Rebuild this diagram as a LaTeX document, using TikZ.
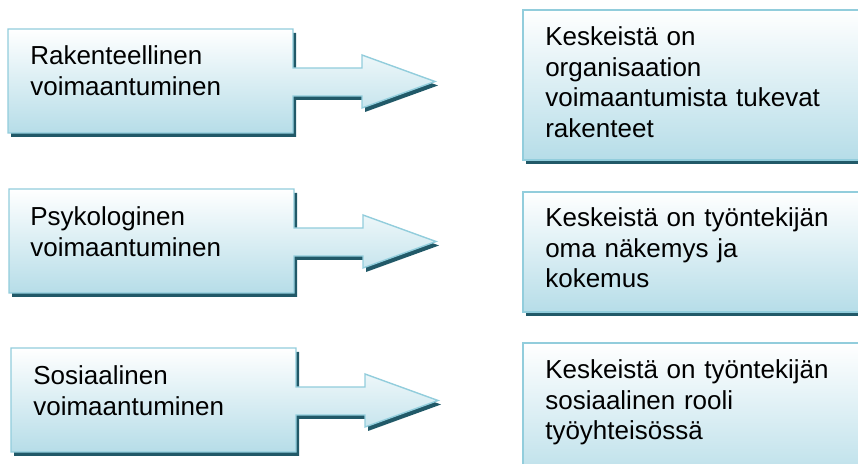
\documentclass[tikz,border=0pt]{standalone}
\usepackage{fontspec}
\setmainfont{Liberation Sans}
\usetikzlibrary{shadows}

\definecolor{boxline}{HTML}{92CDDC}
\definecolor{boxfill}{HTML}{B6DDE8}
\definecolor{boxshadow}{HTML}{215968}

\tikzset{
    calloutbox/.style={draw=boxline, line width=1pt, top color=white, bottom color=boxfill,
        general shadow={fill=boxshadow, shadow xshift=0.075cm, shadow yshift=-0.1cm}},
    infobox/.style={calloutbox},
    boxtext/.style={anchor=base west, inner sep=0pt, text width=8cm, align=left,
        font=\fontsize{18.5}{21.6}\selectfont}
}

\begin{document}
\begin{tikzpicture}[x=0.025cm, y=-0.025cm]
            \clip (0,0) rectangle (858,464);

            % rakenteellinen
            \begin{scope}[shift={(8,29)}]
                \path[calloutbox] (0,0) -- (285,0) -- (285,39) -- (354,39) -- (354,26)
                    -- (427,52.5) -- (354,79) -- (354,67) -- (285,67) -- (285,104) -- (0,104) -- cycle;
                \node[boxtext] (rakenne) at (22,36) {Rakenteellinen\\voimaantuminen};
            \end{scope}

            % psykologinen
            \begin{scope}[shift={(9,189)}]
                \path[calloutbox] (0,0) -- (285,0) -- (285,39) -- (354,39) -- (354,26)
                    -- (427,52.5) -- (354,79) -- (354,67) -- (285,67) -- (285,104) -- (0,104) -- cycle;
                \node[boxtext] (psyko) at (21,37) {Psykologinen\\voimaantuminen};
            \end{scope}

            % sosiaalinen
            \begin{scope}[shift={(11,348)}]
                \path[calloutbox] (0,0) -- (285,0) -- (285,39) -- (354,39) -- (354,26)
                    -- (427,52.5) -- (354,79) -- (354,67) -- (285,67) -- (285,104) -- (0,104) -- cycle;
                \node[boxtext] (sosio) at (22,37) {Sosiaalinen\\voimaantuminen};
            \end{scope}

            \path[infobox] (523,10) rectangle (880,160);
            \node[boxtext] (rakenneinfo) at (545,46)
                {Keskeistä on\\organisaation\\voimaantumista tukevat\\rakenteet};

            \path[infobox] (523,192) rectangle (880,312);
            \node[boxtext] (psykoinfo) at (545,227)
                {Keskeistä on työntekijän\\oma näkemys ja\\kokemus};

            \path[infobox] (523,343) rectangle (880,490);
            \node[boxtext] (sosioinfo) at (545,379)
                {Keskeistä on työntekijän\\sosiaalinen rooli\\työyhteisössä};
\end{tikzpicture}
\end{document}
